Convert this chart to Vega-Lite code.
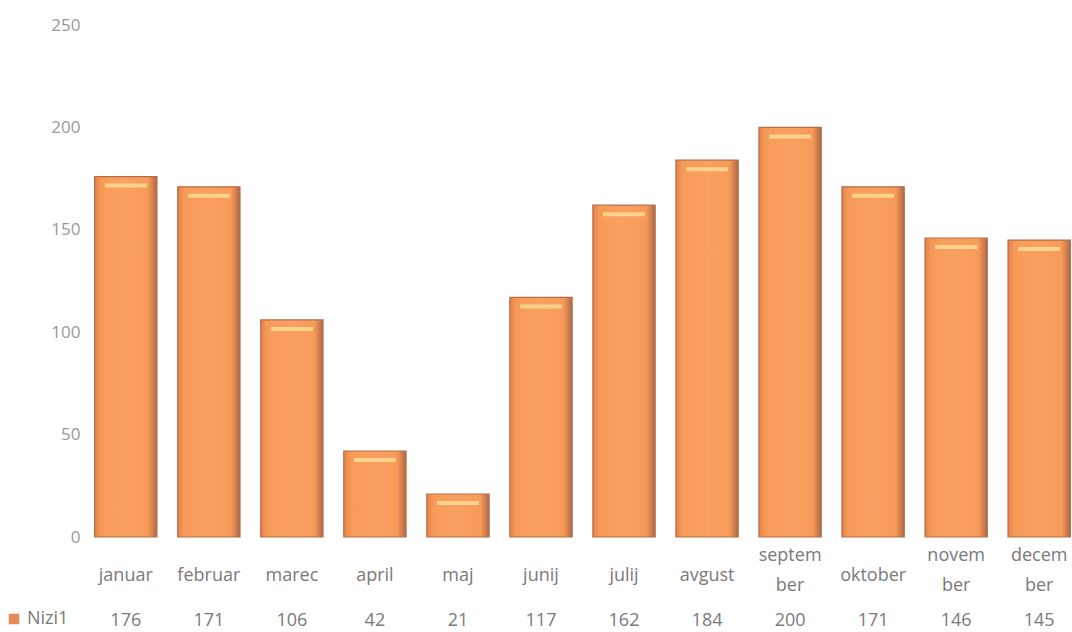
{
  "$schema": "https://vega.github.io/schema/vega-lite/v6.json",
  "autosize": "none",
  "width": 979,
  "height": 512,
  "padding": {"left": 93, "top": 25, "right": 0, "bottom": 95},
  "background": "white",
  "config": {"view": {"stroke": null}, "font": "Open Sans"},
  "data": {"values": [
    {"month": "januar", "Nizi1": 176},
    {"month": "februar", "Nizi1": 171},
    {"month": "marec", "Nizi1": 106},
    {"month": "april", "Nizi1": 42},
    {"month": "maj", "Nizi1": 21},
    {"month": "junij", "Nizi1": 117},
    {"month": "julij", "Nizi1": 162},
    {"month": "avgust", "Nizi1": 184},
    {"month": "september", "Nizi1": 200},
    {"month": "oktober", "Nizi1": 171},
    {"month": "november", "Nizi1": 146},
    {"month": "december", "Nizi1": 145}
  ]},
  "transform": [{"calculate": "datum.month + '|' + datum.Nizi1", "as": "key"}],
  "layer": [
    {
      "mark": {"type": "bar", "stroke": "#B56E48", "strokeWidth": 1.2,
        "fill": {"gradient": "linear", "x1": 0, "x2": 1, "y1": 0, "y2": 0,
          "stops": [
            {"offset": 0, "color": "#E5804C"},
            {"offset": 0.1, "color": "#F79A58"},
            {"offset": 0.5, "color": "#F9A162"},
            {"offset": 0.86, "color": "#F79A58"},
            {"offset": 0.93, "color": "#D5824F"},
            {"offset": 1, "color": "#A86A4A"}
          ]}},
      "encoding": {
        "x": {"field": "key", "type": "nominal", "sort": null,
          "scale": {"paddingInner": 0.25, "paddingOuter": 0.02},
          "axis": {"orient": "bottom", "title": null, "domain": false, "ticks": false, "labelAngle": 0,
            "labelExpr": "length(split(datum.value,'|')[0]) >= 8 && slice(split(datum.value,'|')[0], -3) == 'ber' ? [slice(split(datum.value,'|')[0], 0, -3), 'ber'] : split(datum.value,'|')[0]",
            "labelFontSize": 18, "labelColor": "#7a7a7a", "labelBaseline": "middle", "labelLineHeight": 30,
            "labelPadding": {"condition": {"test": "length(split(datum.value,'|')[0]) >= 8 && slice(split(datum.value,'|')[0], -3) == 'ber'", "value": 18}, "value": 38},
            "labelFont": "Open Sans"}},
        "y": {"field": "Nizi1", "type": "quantitative", "scale": {"domain": [0, 250], "nice": false},
          "axis": {"title": null, "grid": false, "domain": false, "ticks": false, "values": [0, 50, 100, 150, 200, 250],
            "labelPadding": 13, "labelFontSize": 17, "labelColor": "#999999"}},
        "color": {"datum": "Nizi1", "type": "nominal", "scale": {"range": ["#E8875A"]},
          "legend": {"orient": "none", "legendX": -88, "legendY": 585, "title": null, "symbolType": "square", "symbolSize": 110,
            "symbolStrokeWidth": 0, "labelFontSize": 18, "labelColor": "#7a7a7a", "labelOffset": 4}}
      }
    },
    {
      "mark": {"type": "tick", "color": "#FDD68E", "thickness": 4, "size": 42, "yOffset": 9, "opacity": 0.95},
      "encoding": {
        "x": {"field": "key", "type": "nominal", "sort": null,
          "axis": {"orient": "bottom", "title": null, "domain": false, "ticks": false, "labelAngle": 0,
            "labelExpr": "split(datum.value,'|')[1]",
            "labelFontSize": 18, "labelColor": "#7a7a7a", "labelBaseline": "middle", "labelPadding": 83}},
        "y": {"field": "Nizi1", "type": "quantitative"}
      }
    }
  ],
  "resolve": {"axis": {"x": "independent"}}
}
